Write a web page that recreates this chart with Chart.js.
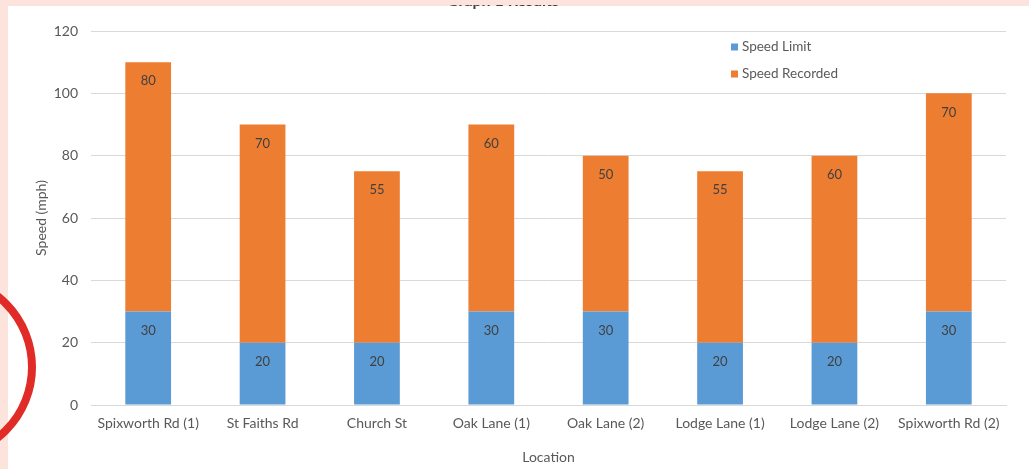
<!DOCTYPE html>
<html><head><meta charset="utf-8">
<script src="https://cdn.jsdelivr.net/npm/chart.js@4/dist/chart.umd.min.js"></script>
<style>html,body{margin:0;padding:0;background:#fce4dc;overflow:hidden}#wrap{width:1029px;height:469px;position:relative}canvas{display:block}</style>
</head><body><div id="wrap"><canvas id="c" width="1029" height="469"></canvas></div>
<script>
const categories = ['Spixworth Rd (1)','St Faiths Rd','Church St','Oak Lane (1)','Oak Lane (2)','Lodge Lane (1)','Lodge Lane (2)','Spixworth Rd (2)'];
const speedLimit = [30,20,20,30,30,20,20,30];
const speedRecorded = [80,70,55,60,50,55,60,70];
const yTicks = [0,20,40,60,80,100,120];
const seriesNames = ['Speed Limit','Speed Recorded'];
const chartTitle = 'Graph 1 Results';
const FONT = 'Lato, "Open Sans", sans-serif';
const BLUE = '#5b9bd5', ORANGE = '#ed7d31';

const bgPlugin = {
  id:'bg',
  beforeDraw(chart){
    const ctx = chart.ctx;
    ctx.save();
    ctx.fillStyle = '#fce4dc';
    ctx.fillRect(0,0,chart.width,chart.height);
    ctx.fillStyle = '#ffffff';
    ctx.fillRect(8,6,chart.width-8,chart.height-6);
    ctx.restore();
  },
  afterDraw(chart){
    const ctx = chart.ctx;
    // title (clipped at the top of the white panel)
    ctx.save();
    ctx.beginPath(); ctx.rect(0,5,chart.width,10); ctx.clip();
    ctx.fillStyle = '#404040';
    ctx.font = 'bold 16px ' + FONT;
    ctx.textAlign = 'center'; ctx.textBaseline = 'alphabetic';
    ctx.fillText(chartTitle, 503, 6);
    ctx.restore();
    // red ring
    ctx.save();
    ctx.strokeStyle = '#e02b27';
    ctx.lineWidth = 8;
    ctx.beginPath(); ctx.arc(-58, 367, 90, 0, Math.PI*2); ctx.stroke();
    ctx.restore();
    // data labels
    ctx.save();
    ctx.font = '13px ' + FONT;
    ctx.fillStyle = '#404040';
    ctx.textAlign = 'center'; ctx.textBaseline = 'middle';
    chart.data.datasets.forEach((ds, di) => {
      const meta = chart.getDatasetMeta(di);
      meta.data.forEach((bar, i) => {
        ctx.fillText(String(ds.data[i]), bar.x, bar.y + 19);
      });
    });
    ctx.restore();
    // legend
    ctx.save();
    ctx.font = '13.5px ' + FONT;
    ctx.textAlign = 'left'; ctx.textBaseline = 'middle';
    const ys = [47, 74];
    chart.data.datasets.forEach((ds, di) => {
      ctx.fillStyle = ds.backgroundColor;
      ctx.fillRect(731, ys[di]-3.5, 7, 7);
      ctx.fillStyle = '#595959';
      ctx.fillText(ds.label, 742, ys[di]);
    });
    ctx.restore();
  }
};

new Chart(document.getElementById('c'), {
  type:'bar',
  data:{
    labels: categories,
    datasets:[
      {label: seriesNames[0], data: speedLimit, backgroundColor: BLUE},
      {label: seriesNames[1], data: speedRecorded, backgroundColor: ORANGE}
    ]
  },
  options:{
    responsive:false,
    animation:false,
    devicePixelRatio:1,
    layout:{padding:{left:0,right:23,top:31,bottom:0}},
    datasets:{bar:{categoryPercentage:1, barPercentage:0.4, borderWidth:0}},
    plugins:{legend:{display:false}, tooltip:{enabled:false}, title:{display:false}},
    scales:{
      x:{
        stacked:true,
        grid:{display:false, drawTicks:false},
        border:{display:true, color:'#d9d9d9', width:1},
        ticks:{color:'#595959', font:{family:FONT, size:14}, padding:10, maxRotation:0, autoSkip:false},
        title:{display:true, text:'Location', color:'#595959', font:{family:FONT, size:14}, padding:{top:0,bottom:3}},
        afterFit(s){ s.height = 64; }
      },
      y:{
        stacked:true, min:0, max:120,
        grid:{color:'#d9d9d9', drawTicks:false, lineWidth:1},
        border:{display:false},
        ticks:{color:'#595959', font:{family:FONT, size:14}, padding:13},
        afterBuildTicks(s){ s.ticks = yTicks.map(v => ({value:v})); },
        title:{display:true, text:'Speed (mph)', color:'#595959', font:{family:FONT, size:14}, padding:{top:33,bottom:0}},
        afterFit(s){ s.width = 91; }
      }
    }
  },
  plugins:[bgPlugin]
});
</script>
</body></html>
